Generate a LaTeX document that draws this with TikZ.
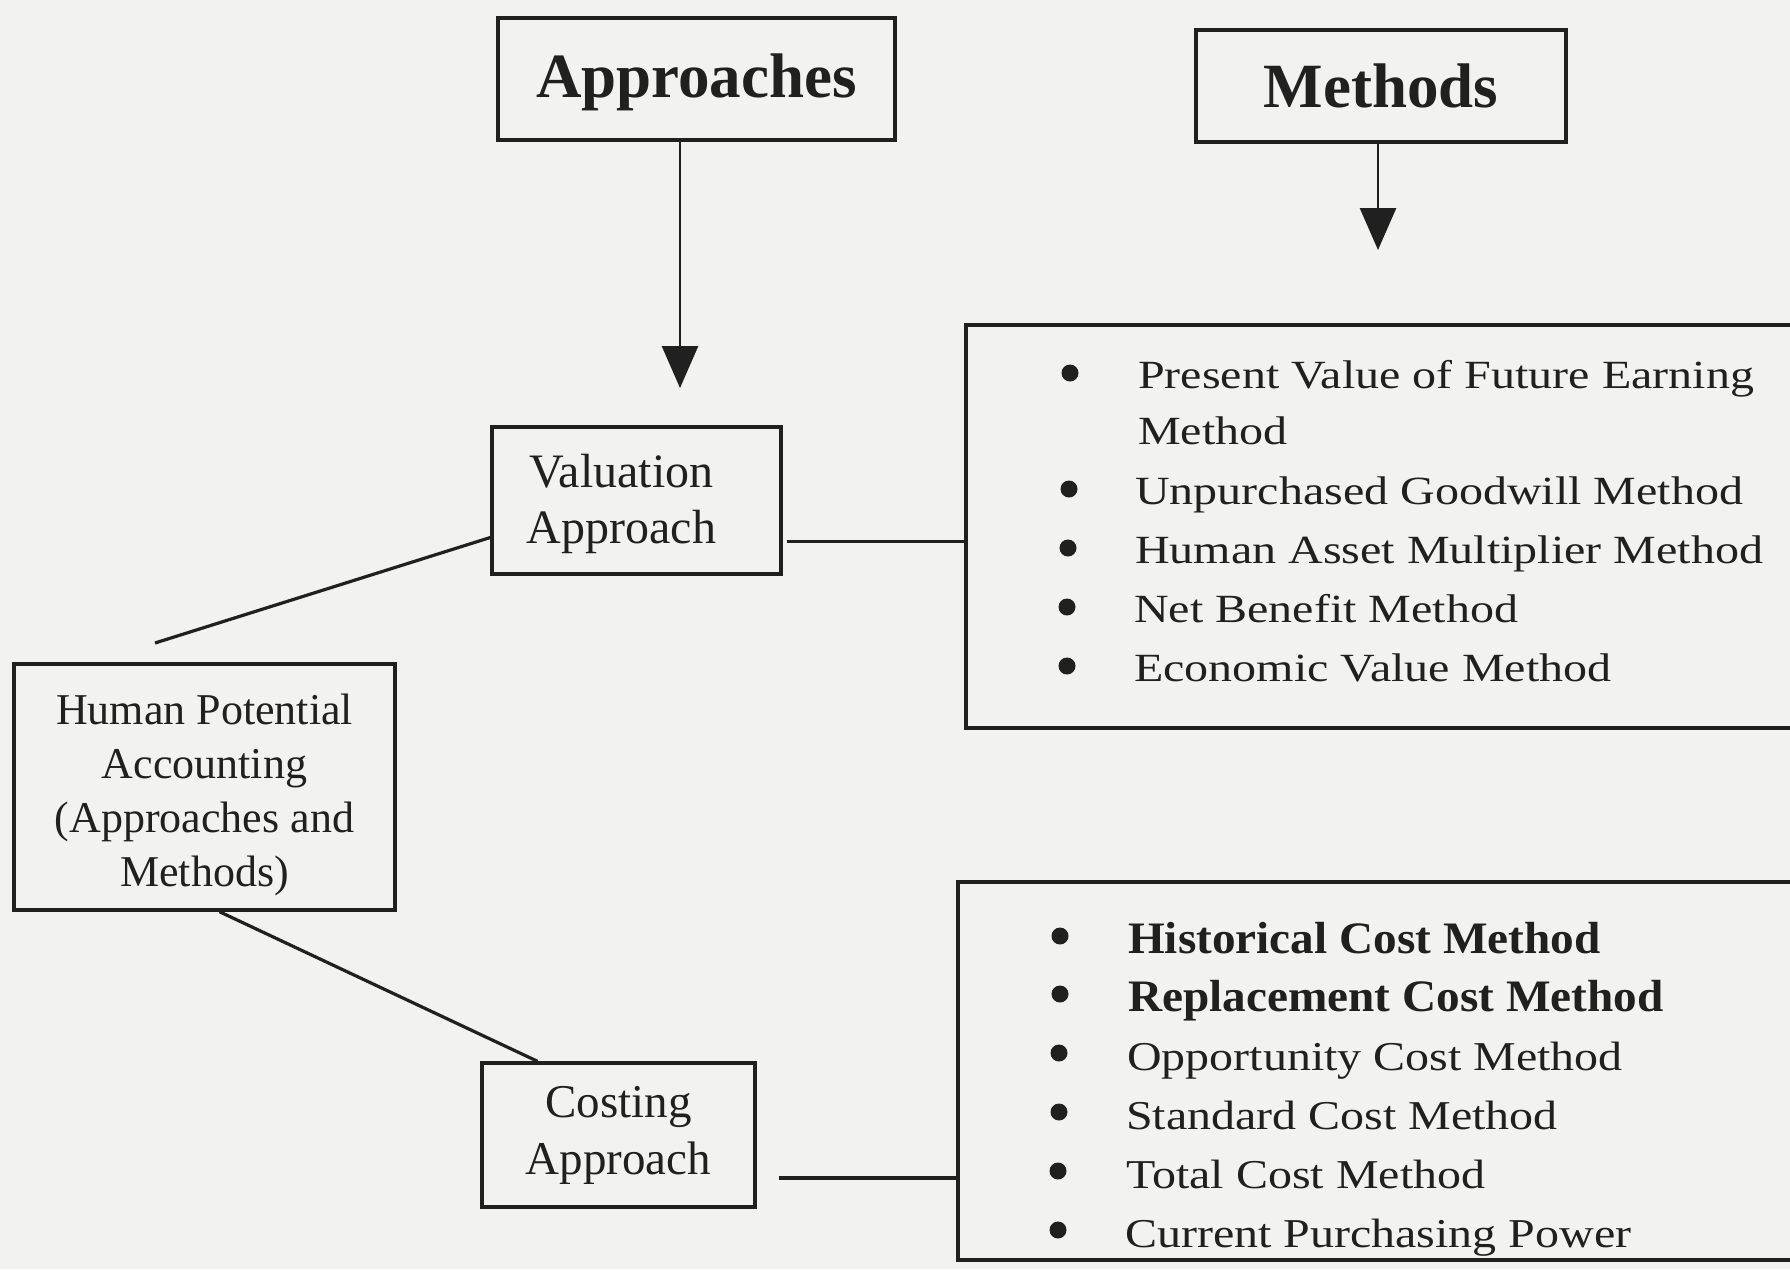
\documentclass[tikz,border=0pt]{standalone}
\usepackage{fontspec}
\setmainfont{Liberation Serif}
\newfontfamily\wideA[FakeStretch=1.2]{Liberation Serif}
\newfontfamily\wideB[FakeStretch=1.17]{Liberation Serif}
\newfontfamily\wideC[FakeStretch=1.05]{Liberation Serif}
\usetikzlibrary{arrows.meta}
\definecolor{paper}{RGB}{242,242,240}
\definecolor{ink}{RGB}{32,32,32}
\begin{document}
\begin{tikzpicture}[x=1pt,y=-1pt,
  box/.style={draw=ink, line width=3.4pt, rectangle, inner sep=0pt, text=ink, align=center},
  conn/.style={draw=ink, line width=3.2pt},
  itemtxt/.style={anchor=base west, inner sep=0pt, text=ink},
  dot/.style={circle, fill=ink, minimum size=17pt, inner sep=0pt},
  tipA/.style={-{Triangle[width=36pt,length=42pt]}},
  fA/.style={font=\wideA\fontsize{40}{48}\selectfont},
  fB/.style={font=\wideB\fontsize{41}{48}\selectfont},
  fC/.style={font=\wideC\bfseries\fontsize{45}{52}\selectfont}]
\useasboundingbox (0,0) rectangle (1790,1269);
\fill[paper] (0,0) rectangle (1790,1269);
\begin{scope}
\clip (0,0) rectangle (1790,1269);

% title boxes
\node[box, minimum width=397pt, minimum height=122pt, font=\bfseries\fontsize{63}{70}\selectfont] (appr) at (696.5,79) {\rule{0pt}{50pt}Approaches};
\node[box, minimum width=370pt, minimum height=112pt, font=\bfseries\fontsize{63}{70}\selectfont] (mth) at (1381,86) {Methods};

% approach boxes
\node[box, minimum width=289pt, minimum height=147pt, font=\fontsize{48}{56}\selectfont] (val) at (636.5,500.5) {\rule{0pt}{40pt}Valuation\hspace*{30pt}\\Approach\hspace*{30pt}};
\node[box, minimum width=381pt, minimum height=246pt, font=\fontsize{44}{54}\selectfont] (hpa) at (204.5,787) {\rule{0pt}{46pt}Human Potential\\Accounting\\(Approaches and\\Methods)};
\node[box, minimum width=273pt, minimum height=144pt, font=\fontsize{47}{57}\selectfont] (cost) at (618.5,1135) {Costing\\Approach};

% method lists
\node[box, minimum width=834pt, minimum height=403pt] (list1) at (1383,526.5) {};
\node[box, minimum width=842pt, minimum height=378pt] (list2) at (1379,1071) {};

% list 1 items
\node[itemtxt, fA] (v1) at (1138,388) {Present Value of Future Earning};
\node[itemtxt, fA] (v1b) at (1138,444) {Method};
\node[itemtxt, fA] (v2) at (1135,504) {Unpurchased Goodwill Method};
\node[itemtxt, fA] (v3) at (1135,563) {Human Asset Multiplier Method};
\node[itemtxt, fA] (v4) at (1134,622) {Net Benefit Method};
\node[itemtxt, fA] (v5) at (1134,681) {Economic Value Method};
\node[dot] (b1) at (1070,373) {};
\node[dot] (b2) at (1069,489) {};
\node[dot] (b3) at (1068,548) {};
\node[dot] (b4) at (1067,607) {};
\node[dot] (b5) at (1067,666) {};

% list 2 items
\node[itemtxt, fC] (c1) at (1128,953) {Historical Cost Method};
\node[itemtxt, fC] (c2) at (1128,1011) {Replacement Cost Method};
\node[itemtxt, fB] (c3) at (1127,1070) {Opportunity Cost Method};
\node[itemtxt, fB] (c4) at (1126,1129) {Standard Cost Method};
\node[itemtxt, fB] (c5) at (1126,1188) {Total Cost Method};
\node[itemtxt, fB] (c6) at (1125,1247) {Current Purchasing Power};
\node[dot] (d1) at (1060,936) {};
\node[dot] (d2) at (1060,994) {};
\node[dot] (d3) at (1059,1053) {};
\node[dot] (d4) at (1059,1112) {};
\node[dot] (d5) at (1058,1171) {};
\node[dot] (d6) at (1058,1230) {};

% arrows
\coordinate (aTip) at (680,388);
\coordinate (mTip) at (1378,250);
\draw[conn, line width=2.8pt, tipA] ([xshift=-16.5pt]appr.south) -- (aTip);
\draw[conn, line width=2.8pt, tipA] ([xshift=-3pt]mth.south) -- (mTip);

% connectors
\coordinate (hpaTop) at (155,643);
\draw[conn] (hpaTop) -- ([yshift=-37pt]val.west);
\draw[conn] ([xshift=15pt]hpa.south) -- ([xshift=-81pt]cost.north);
\path ([xshift=4pt,yshift=-41pt]val.east) coordinate (vR);
\draw[conn] (vR) -- (vR -| list1.west);
\path ([xshift=22pt,yshift=-43pt]cost.east) coordinate (cR);
\draw[conn] (cR) -- (cR -| list2.west);
\end{scope}
\end{tikzpicture}
\end{document}
